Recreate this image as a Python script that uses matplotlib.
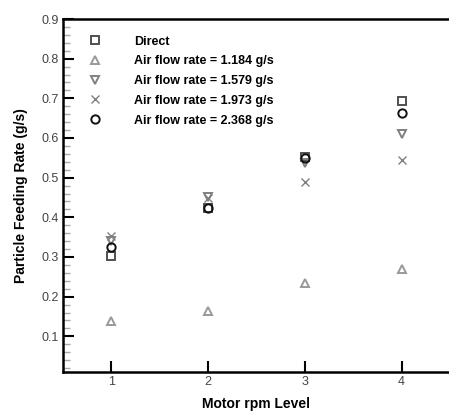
import numpy as np
import matplotlib
matplotlib.use('Agg')
import matplotlib.pyplot as plt
from matplotlib.ticker import MultipleLocator

plt.rcParams['font.family'] = ['Liberation Sans', 'DejaVu Sans']

levels = [1, 2, 3, 4]
direct = [0.303, 0.424, 0.553, 0.692]
air_1184 = [0.139, 0.164, 0.234, 0.270]
air_1579 = [0.340, 0.452, 0.538, 0.610]
air_1973 = [0.352, 0.448, 0.490, 0.544]
air_2368 = [0.326, 0.423, 0.549, 0.663]

labels = ['Direct', 'Air flow rate = 1.184 g/s', 'Air flow rate = 1.579 g/s',
          'Air flow rate = 1.973 g/s', 'Air flow rate = 2.368 g/s']

fig = plt.figure(figsize=(4.49, 4.11), dpi=100)
ax = fig.add_axes([63 / 449, 39 / 411, 387 / 449, 353 / 411])

ax.plot(levels, direct, 's', ms=5.5, mfc='none', mec='#505050', mew=1.4, label=labels[0])
ax.plot(levels, air_1184, '^', ms=5.5, mfc='none', mec='#999999', mew=1.4, label=labels[1])
ax.plot(levels, air_1579, 'v', ms=5.5, mfc='none', mec='#808080', mew=1.4, label=labels[2])
ax.plot(levels, air_1973, 'x', ms=6, mec='#808080', mew=1.0, label=labels[3])
ax.plot(levels, air_2368, 'o', ms=6, mfc='none', mec='#111111', mew=1.4, label=labels[4])

ax.set_xlim(0.5, 4.5)
ax.set_ylim(0.01, 0.9)
ax.set_xticks(levels)
ax.yaxis.set_major_locator(MultipleLocator(0.1))
ax.yaxis.set_minor_locator(MultipleLocator(0.02))
ax.set_yticks(np.arange(0.1, 0.91, 0.1))
ax.set_yticklabels(['%.1f' % v for v in np.arange(0.1, 0.91, 0.1)])

ax.tick_params(axis='both', which='major', direction='in', length=8, width=1.5,
               labelsize=9, labelcolor='#444444', pad=3)
ax.tick_params(axis='y', which='minor', direction='in', length=5, width=1, color='#aaaaaa')
ax.tick_params(top=False, right=False)

for s in ['left', 'bottom', 'top']:
    ax.spines[s].set_linewidth(1.8)
ax.spines['right'].set_visible(False)

ax.set_xlabel('Motor rpm Level', fontsize=10, fontweight='bold', labelpad=6)
ax.set_ylabel('Particle Feeding Rate (g/s)', fontsize=10, fontweight='bold', labelpad=10)

leg = ax.legend(loc='upper left', bbox_to_anchor=(0.032, 0.985), frameon=False,
                prop={'size': 9, 'weight': 'bold'}, handletextpad=2.5,
                labelspacing=0.62, handlelength=1.3)

fig.savefig('out.png', dpi=100)
